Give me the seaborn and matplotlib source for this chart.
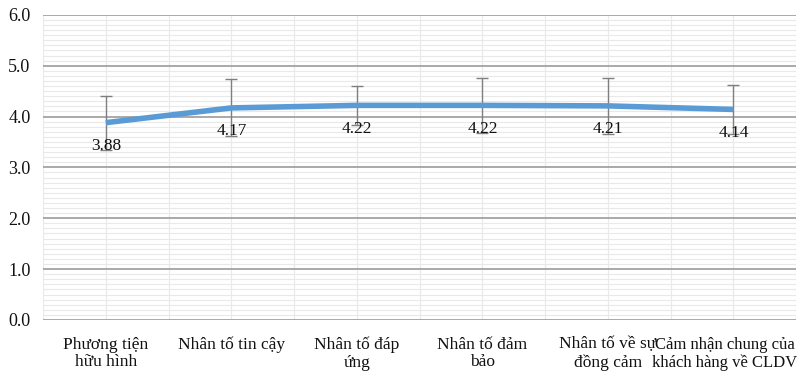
import numpy as np
import matplotlib
matplotlib.use("Agg")
import matplotlib.pyplot as plt
import matplotlib.transforms as mtransforms
import seaborn as sns
import pandas as pd

categories = [
    "Phương tiện\nhữu hình",
    "Nhân tố tin cậy",
    "Nhân tố đáp\nứng",
    "Nhân tố đảm\nbảo",
    "Nhân tố về sự\nđồng cảm",
    "Cảm nhận chung của\nkhách hàng về CLDV",
]
means = [3.88, 4.17, 4.22, 4.22, 4.21, 4.14]
std_err = [0.53, 0.56, 0.39, 0.54, 0.55, 0.48]
y_ticks = [0.0, 1.0, 2.0, 3.0, 4.0, 5.0, 6.0]

sns.set_style("white")
plt.rcParams["font.family"] = ["Liberation Serif", "DejaVu Serif"]

df = pd.DataFrame({"pos": np.arange(len(categories)), "mean": means})

fig = plt.figure(figsize=(7.97, 3.72), dpi=100)
ax = fig.add_axes([0.054, 0.14, 0.945, 0.82])

# grid
ax.set_xlim(-0.5, len(categories) - 0.5)
ax.set_ylim(0, 6)
ax.set_yticks(y_ticks)
ax.set_yticklabels([f"{v:.1f}" for v in y_ticks], fontsize=13, color="#111111")
ax.set_yticks(np.arange(0, 6.01, 0.1), minor=True)
ax.set_xticks(df["pos"])
ax.set_xticklabels(categories, fontsize=12.5, linespacing=1.15, color="#111111")
ax.set_xticks(np.arange(-0.5, len(categories), 0.5), minor=True)
ax.grid(which="minor", axis="both", color="#e9e9e9", linewidth=0.8)
ax.grid(which="major", axis="y", color="#a3a3a3", linewidth=1.3)
ax.grid(which="major", axis="x", color="#e9e9e9", linewidth=0.8)
ax.set_axisbelow(True)
ax.tick_params(which="both", length=0)
ax.tick_params(axis="x", pad=12)
ax.tick_params(axis="y", pad=9)
for s in ax.spines.values():
    s.set_visible(False)

# the last category label sits a little left of its tick and runs to the edge
last = ax.get_xticklabels()[-1]
last.set_fontsize(12)
last.set_transform(last.get_transform() +
                   mtransforms.ScaledTranslation(-9 / 100, 0, fig.dpi_scale_trans))

# error bars
ax.errorbar(df["pos"], df["mean"], yerr=std_err, fmt="none",
            ecolor="#7f7f7f", elinewidth=1.0, capsize=4, capthick=1.0, zorder=2)

# line
sns.lineplot(data=df, x="pos", y="mean", ax=ax, color="#5b9bd5",
             linewidth=4, zorder=3, solid_capstyle="butt")

for x, v in zip(df["pos"], means):
    ax.annotate(f"{v:.2f}", (x, v), xytext=(0, -11), textcoords="offset points",
                ha="center", va="top", fontsize=12.5, color="#111111", zorder=4)

ax.set_xlabel("")
ax.set_ylabel("")

plt.savefig("out.png", dpi=100)
plt.close()
